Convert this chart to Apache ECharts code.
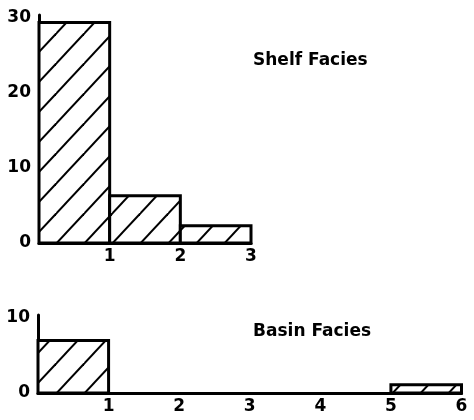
<!DOCTYPE html>
<html>
<head>
<meta charset="utf-8">
<script src="https://cdn.jsdelivr.net/npm/echarts@6/dist/echarts.min.js"></script>
<style>
  html, body { margin: 0; padding: 0; background: #fff; }
  #chart { width: 474px; height: 420px; }
</style>
</head>
<body>
<div id="chart"></div>
<script>
// Histogram bins: [start, end] along the x scale, with the count for each bin
const shelfBinStart = [0, 1, 2];
const shelfBinEnd = [1, 2, 3];
const shelfCounts = [29.4, 6.3, 2.3];

const basinBinStart = [0, 5];
const basinBinEnd = [1, 6];
const basinCounts = [7, 1.1];

const shelfLabel = 'Shelf Facies';
const basinLabel = 'Basin Facies';

const shelfYTicks = [0, 10, 20, 30];
const basinYTicks = [0, 10];

// Diagonal "/" hatching used as the fill of every bar
function makeHatch() {
  const W = 28, H = 30, phase = 0.125;
  const c = document.createElement('canvas');
  c.width = W; c.height = H;
  const ctx = c.getContext('2d');
  ctx.fillStyle = '#fff';
  ctx.fillRect(0, 0, W, H);
  ctx.strokeStyle = '#000';
  ctx.lineWidth = 2;
  for (let k = -2; k <= 3; k++) {
    const c0 = k + phase;
    // line x/W + y/H = c0
    ctx.beginPath();
    ctx.moveTo(W * (c0 + 1), -H);
    ctx.lineTo(W * (c0 - 2), 2 * H);
    ctx.stroke();
  }
  return { image: c, repeat: 'repeat' };
}
const hatch = makeHatch();

function toRows(starts, ends, counts) {
  return starts.map((s, i) => [s, ends[i], counts[i]]);
}

function renderBin(params, api) {
  const p0 = api.coord([api.value(0), api.value(2)]);
  const p1 = api.coord([api.value(1), 0]);
  return {
    type: 'rect',
    shape: { x: p0[0], y: p0[1], width: p1[0] - p0[0], height: p1[1] - p0[1] },
    style: { fill: hatch, stroke: '#000', lineWidth: 3, lineJoin: 'miter' }
  };
}

const labelFont = {
  color: '#000',
  fontFamily: 'DejaVu Sans',
  fontWeight: 'bold',
  fontSize: 17
};

const facieFont = {
  color: '#000',
  fontFamily: 'DejaVu Sans',
  fontWeight: 'bold',
  fontSize: 17
};

function xAxisFor(gridIndex, max) {
  return {
    type: 'value',
    gridIndex: gridIndex,
    min: 0,
    max: max,
    interval: 1,
    axisLine: { show: true, onZero: false, lineStyle: { color: '#000', width: 3 } },
    axisTick: { show: false },
    splitLine: { show: false },
    axisLabel: Object.assign({ showMinLabel: false, margin: 5 }, labelFont)
  };
}

function yAxisFor(gridIndex, top, ticks) {
  return {
    type: 'value',
    gridIndex: gridIndex,
    min: 0,
    max: top,
    interval: 10,
    axisLine: { show: true, lineStyle: { color: '#000', width: 3 } },
    axisTick: { show: false },
    splitLine: { show: false },
    axisLabel: Object.assign({
      margin: 8,
      showMaxLabel: false,
      formatter: v => (ticks.indexOf(v) >= 0 ? String(v) : '')
    }, labelFont)
  };
}

const chart = echarts.init(document.getElementById('chart'), null, { renderer: 'canvas' });
chart.setOption({
  backgroundColor: '#fff',
  animation: false,
  title: [
    { text: shelfLabel, left: 248, top: 47, textStyle: facieFont },
    { text: basinLabel, left: 248, top: 318, textStyle: facieFont }
  ],
  grid: [
    { left: 39, top: 15, width: 212, height: 228 },
    { left: 38, top: 315, width: 423.5, height: 78 }
  ],
  xAxis: [xAxisFor(0, 3), xAxisFor(1, 6)],
  yAxis: [yAxisFor(0, 30.4, shelfYTicks), yAxisFor(1, 10.4, basinYTicks)],
  series: [
    {
      type: 'custom',
      xAxisIndex: 0, yAxisIndex: 0,
      renderItem: renderBin,
      encode: { x: [0, 1], y: 2 },
      data: toRows(shelfBinStart, shelfBinEnd, shelfCounts)
    },
    {
      type: 'custom',
      xAxisIndex: 1, yAxisIndex: 1,
      renderItem: renderBin,
      encode: { x: [0, 1], y: 2 },
      data: toRows(basinBinStart, basinBinEnd, basinCounts)
    }
  ]
});
</script>
</body>
</html>
